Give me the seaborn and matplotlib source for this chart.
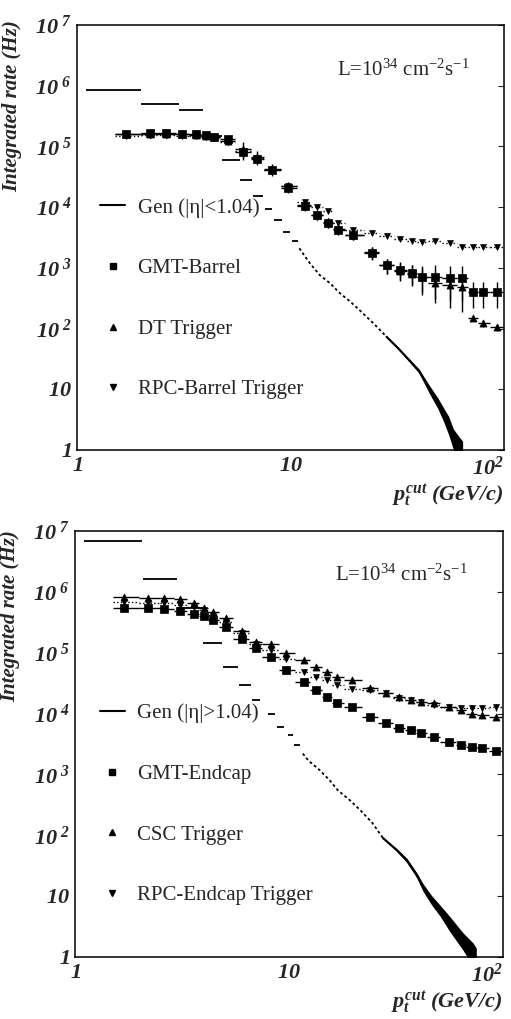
import numpy as np
import pandas as pd
import seaborn as sns
import matplotlib.pyplot as plt
from matplotlib.lines import Line2D
from matplotlib.ticker import NullLocator

# trigger pt thresholds (GeV/c) and the bins drawn as horizontal bars
pt = [1.7, 2.2, 2.6, 3.1, 3.6, 4.0, 4.4, 5.1, 6.0, 7.0, 8.2, 9.7, 11.7, 13.3,
      15.0, 16.7, 19.6, 24.0, 28.3, 32.6, 37.0, 41.3, 47.5, 56.0, 63.6, 71.6, 79.7, 92.7]
bin_lo = [1.5, 2.0, 2.5, 2.9, 3.35, 3.8, 4.2, 4.7, 5.5, 6.5, 7.5, 9.0, 10.7, 12.5,
          14.2, 15.8, 18.0, 22.0, 26.0, 30.5, 35.0, 39.0, 44.0, 51.0, 60.0, 67.5, 75.5, 86.0]
bin_hi = [2.0, 2.5, 2.9, 3.35, 3.8, 4.2, 4.7, 5.5, 6.5, 7.5, 9.0, 10.7, 12.5, 14.2,
          15.8, 18.0, 22.0, 26.0, 30.5, 35.0, 39.0, 44.0, 51.0, 60.0, 67.5, 75.5, 86.0, 99.0]

# ---- barrel |eta|<1.04
gmt_barrel = [1.6e5, 1.65e5, 1.65e5, 1.6e5, 1.6e5, 1.55e5, 1.45e5, 1.3e5, 8e4, 6.2e4, 4.1e4, 2.1e4, 1.05e4, 7.4e3,
              5.5e3, 4.2e3, 3.5e3, 1.77e3, 1.1e3, 9.3e2, 8.3e2, 7.1e2, 7.1e2, 6.8e2, 6.8e2, 4e2, 4e2, 4e2]
gmt_barrel_err = [2.5e4, 2.5e4, 2.5e4, 2.5e4, 2.5e4, 2.5e4, 2e4, 2e4, 1.5e4, 1.2e4, 8e3, 4e3, 2e3, 1.3e3,
                  1e3, 7e2, 6e2, 4e2, 3e2, 3e2, 3e2, 3.5e2, 4e2, 4e2, 4e2, 1.8e2, 1.8e2, 1.8e2]
dt_trig = [1.6e5, 1.6e5, 1.6e5, 1.6e5, 1.55e5, 1.5e5, 1.45e5, 1.25e5, 9e4, 6.8e4, 4.3e4, 2.2e4, 1.1e4, 7.5e3,
           5.6e3, 4.3e3, 3.5e3, 1.8e3, 1.1e3, 9e2, 8e2, 7e2, 5.6e2, 5.2e2, 4.9e2, 1.5e2, 1.23e2, 1.06e2]
dt_err = [2e4, 2e4, 2e4, 2e4, 2e4, 2e4, 2e4, 2e4, 3e4, 1.5e4, 8e3, 4e3, 2e3, 1.3e3,
          1e3, 7e2, 6e2, 4e2, 3e2, 3e2, 3e2, 3e2, 3e2, 3e2, 3e2, 15, 15, 15]
rpc_barrel = [1.5e5, 1.55e5, 1.55e5, 1.5e5, 1.5e5, 1.45e5, 1.4e5, 1.2e5, 8.5e4, 6.5e4, 4.1e4, 2.2e4, 1.2e4, 1.0e4,
              8.5e3, 5.5e3, 4.2e3, 3.7e3, 3.4e3, 3.0e3, 2.8e3, 2.7e3, 2.75e3, 2.6e3, 2.2e3, 2.2e3, 2.2e3, 2.2e3]
rpc_barrel_err = [1.5e4, 1.5e4, 1.5e4, 1.5e4, 1.5e4, 1.5e4, 1.2e4, 1.2e4, 1e4, 8e3, 5e3, 2.5e3, 1.2e3, 8e2,
                  6e2, 4e2, 3e2, 2e2, 1.5e2, 1.2e2, 1e2, 1e2, 1e2, 1e2, 90, 90, 90, 90]

# generated rate: wide bins at low pt, then a dense curve
gen_barrel_lo = [1.1, 2.0, 3.0, 3.9, 4.8, 5.8, 6.7, 7.6, 8.4, 9.2, 10.2]
gen_barrel_hi = [2.0, 3.0, 3.9, 4.8, 5.8, 6.6, 7.4, 8.2, 9.1, 9.9, 10.8]
gen_barrel_val = [8.5e5, 5.0e5, 4.0e5, 1.5e5, 6.0e4, 2.8e4, 1.5e4, 9.3e3, 6.1e3, 3.9e3, 2.8e3]
gen_barrel_pt = [11.0, 12.3, 13.7, 15.3, 17.0, 19.0, 21.0, 24.4, 28.2, 32.0, 36.0, 40.0, 45.0, 49.0,
                 52.0, 55.0, 58.0, 62.0, 64.0]
gen_barrel = [2.1e3, 1.2e3, 7.6e2, 5.6e2, 3.85e2, 2.8e2, 2.03e2, 1.23e2, 73, 47, 30, 20, 9.7, 6.0,
              4.0, 2.7, 1.6, 1.1, 0.9]
gen_barrel_err = [0, 0, 0, 0, 0, 0, 0, 0, 0, 1, 1.5, 1.5, 1.5, 1.2, 1.0, 0.9, 0.6, 0.5, 0.5]

# ---- endcap |eta|>1.04
gmt_endcap = [5.5e5, 5.4e5, 5.2e5, 4.8e5, 4.4e5, 4.0e5, 3.5e5, 2.6e5, 1.7e5, 1.2e5, 8.5e4, 5.2e4, 3.3e4, 2.4e4,
              1.9e4, 1.5e4, 1.27e4, 8.7e3, 6.9e3, 5.8e3, 5.3e3, 4.8e3, 4.1e3, 3.4e3, 3.0e3, 2.8e3, 2.7e3, 2.4e3]
gmt_endcap_err = [3e4, 3e4, 3e4, 3e4, 2.5e4, 2.5e4, 2e4, 1.5e4, 1e4, 7e3, 5e3, 3e3, 2e3, 1.5e3,
                  1.2e3, 1e3, 8e2, 5e2, 4e2, 3.5e2, 3e2, 3e2, 2.5e2, 2e2, 2e2, 1.8e2, 1.8e2, 1.5e2]
csc_trig = [8.2e5, 8.0e5, 7.8e5, 7.6e5, 6.5e5, 5.4e5, 4.6e5, 3.7e5, 2.3e5, 1.5e5, 1.4e5, 9.8e4, 7.5e4, 5.8e4,
            4.8e4, 4.0e4, 3.5e4, 2.6e4, 2.2e4, 1.9e4, 1.7e4, 1.55e4, 1.5e4, 1.27e4, 1.15e4, 1.0e4, 9.4e3, 8.7e3]
csc_err = [5e4, 5e4, 5e4, 5e4, 4e4, 3.5e4, 3e4, 2.5e4, 1.5e4, 1e4, 9e3, 6e3, 5e3, 4e3,
           3e3, 2.5e3, 2e3, 1.5e3, 1.3e3, 1.2e3, 1e3, 1e3, 1e3, 9e2, 9e2, 8e2, 8e2, 7e2]
rpc_endcap = [6.8e5, 6.6e5, 6.5e5, 6.2e5, 5.6e5, 5.0e5, 4.2e5, 3.2e5, 2.1e5, 1.4e5, 1.1e5, 8.0e4, 4.8e4, 4.0e4,
              3.5e4, 2.9e4, 2.5e4, 2.4e4, 2.2e4, 1.8e4, 1.66e4, 1.55e4, 1.4e4, 1.27e4, 1.24e4, 1.24e4, 1.24e4, 1.27e4]
rpc_endcap_err = [8e4, 8e4, 8e4, 7e4, 6e4, 5e4, 4e4, 3e4, 2e4, 1.2e4, 1e4, 8e3, 4e3, 3e3,
                  2.5e3, 2e3, 1.8e3, 1.5e3, 1.4e3, 1.2e3, 1.1e3, 1e3, 1e3, 1e3, 1.2e3, 1.2e3, 1.5e3, 1.5e3]

gen_endcap_lo = [1.1, 2.08, 3.0, 3.97, 4.92, 5.84, 6.7, 8.0, 8.8, 9.9, 10.6]
gen_endcap_hi = [2.06, 3.0, 3.97, 4.86, 5.77, 6.64, 7.3, 8.6, 9.5, 10.4, 11.3]
gen_endcap_val = [6.8e6, 1.6e6, 5.5e5, 1.44e5, 5.8e4, 2.9e4, 1.66e4, 1.0e4, 6.0e3, 4.4e3, 3.0e3]
gen_endcap_pt = [11.6, 12.3, 13.9, 15.5, 16.9, 19.2, 21.5, 24.5, 27.5, 31.9, 35.5, 39.6, 42.3, 46.5,
                 50.8, 56.5, 65.0, 72.5, 75.0]
gen_endcap = [2.2e3, 1.7e3, 1.18e3, 8.0e2, 5.5e2, 3.8e2, 2.6e2, 1.6e2, 90, 57, 39, 22, 14, 8.6,
              5.9, 3.6, 1.9, 1.2, 1.0]
gen_endcap_err = [0, 0, 0, 0, 0, 0, 0, 0, 0, 3, 3, 2, 2, 1.5, 1.2, 1.0, 0.6, 0.5, 0.4]

y_ticks = [1, 10, 1e2, 1e3, 1e4, 1e5, 1e6, 1e7]
y_ticklabels = [r'$1$', r'$10$', r'$10^{\ 2}$', r'$10^{\ 3}$', r'$10^{\ 4}$',
                r'$10^{\ 5}$', r'$10^{\ 6}$', r'$10^{\ 7}$']
x_ticks = [1, 10, 100]
x_ticklabels = [r'$1$', r'$10$', r'$10^{2}$']

sns.set_style('white')
plt.rcParams['font.family'] = ['Liberation Serif', 'DejaVu Serif']
plt.rcParams['mathtext.fontset'] = 'custom'
plt.rcParams['mathtext.rm'] = 'Liberation Serif:italic:bold'
plt.rcParams['mathtext.it'] = 'Liberation Serif:italic:bold'
plt.rcParams['mathtext.bf'] = 'Liberation Serif:italic:bold'
plt.rcParams['mathtext.sf'] = 'Liberation Serif'


def draw_series(ax, y, yerr, marker, size, bar_ls='-'):
    x = np.array(pt)
    xerr = [x - np.array(bin_lo), np.array(bin_hi) - x]
    eb = ax.errorbar(x, y, xerr=xerr, yerr=yerr, fmt='none', ecolor='black',
                     elinewidth=1.0, capsize=0, zorder=2)
    eb.lines[2][0].set_linestyle(bar_ls)
    df = pd.DataFrame({'pt': pt, 'rate': y})
    sns.scatterplot(data=df, x='pt', y='rate', marker=marker, s=size, color='black',
                    edgecolor='black', linewidth=0.5, ax=ax, zorder=3, legend=False)


def draw_gen(ax, lo, hi, val, tail_pt, tail, tail_err, solid_from):
    ax.hlines(val, lo, hi, colors='black', lw=1.3, zorder=2)
    tail_pt = np.array(tail_pt)
    tail = np.array(tail)
    tail_err = np.array(tail_err)
    dot = tail_pt <= solid_from
    sol = tail_pt >= tail_pt[dot].max()
    sns.lineplot(x=tail_pt[dot], y=tail[dot], color='black', lw=1.3,
                 linestyle=(0, (1.5, 1.5)), ax=ax, zorder=2)
    sns.lineplot(x=tail_pt[sol], y=tail[sol], color='black', lw=1.6, ax=ax, zorder=2)
    ax.fill_between(tail_pt[sol], tail[sol] - tail_err[sol], tail[sol] + tail_err[sol],
                    color='black', lw=0, zorder=2)


def style_axes(ax, labels, leg_anchor, lumi_pos, ylab_y):
    ax.set_xscale('log')
    ax.set_yscale('log')
    ax.set_xlim(1, 100)
    ax.set_ylim(1, 1e7)
    ax.set_xticks(x_ticks)
    ax.set_xticklabels(x_ticklabels)
    ax.set_yticks(y_ticks)
    ax.set_yticklabels(y_ticklabels)
    ax.get_xticklabels()[-1].set_horizontalalignment('right')
    ax.xaxis.set_minor_locator(NullLocator())
    ax.yaxis.set_minor_locator(NullLocator())
    ax.tick_params(direction='in', length=4, width=0.8, labelsize=16, right=True)
    ax.tick_params(axis='x', pad=5)
    ax.tick_params(axis='y', pad=4)
    for s in ax.spines.values():
        s.set_color('black')
        s.set_linewidth(1.1)
    ax.set_xlabel('')
    ax.set_ylabel('Integrated rate (Hz)', fontsize=15, fontweight='bold', style='italic')
    ax.yaxis.set_label_coords(-0.128, ylab_y)
    ax.text(1.0, -0.108, r'$p_t^{cut}$ (GeV/c)', transform=ax.transAxes, ha='right', va='center',
            fontsize=16, fontweight='bold', style='italic')
    ax.text(lumi_pos[0], lumi_pos[1],
            r'L=10$^{\mathsf{34}}$ cm$^{\mathsf{-2}}$s$^{\mathsf{-1}}$',
            transform=ax.transAxes, ha='left', va='center', fontsize=15)
    handles = [Line2D([], [], color='black', lw=1.5),
               Line2D([], [], marker='s', ls='none', color='black', ms=5),
               Line2D([], [], marker='^', ls='none', color='black', ms=5),
               Line2D([], [], marker='v', ls='none', color='black', ms=4)]
    ax.legend(handles, labels, loc='center left', bbox_to_anchor=leg_anchor, frameon=False,
              fontsize=15, labelspacing=1.97, handlelength=1.2, handletextpad=0.6,
              borderpad=0, borderaxespad=0)


fig = plt.figure(figsize=(5.11, 10.19), dpi=100)
ax1 = fig.add_axes([0.1507, 0.5584, 0.8356, 0.4171])
ax2 = fig.add_axes([0.1468, 0.0608, 0.8376, 0.4181])

# barrel
ax1.set_xscale('log')
ax1.set_yscale('log')
draw_gen(ax1, gen_barrel_lo, gen_barrel_hi, gen_barrel_val,
         gen_barrel_pt, gen_barrel, gen_barrel_err, 29)
draw_series(ax1, rpc_barrel, rpc_barrel_err, 'v', 18, bar_ls=':')
draw_series(ax1, dt_trig, dt_err, '^', 26)
draw_series(ax1, gmt_barrel, gmt_barrel_err, 's', 26)
style_axes(ax1, ['Gen (|η|<1.04)', 'GMT-Barrel', 'DT Trigger', 'RPC-Barrel Trigger'],
           (0.054, 0.356), (0.609, 0.894), 0.81)

# endcap
ax2.set_xscale('log')
ax2.set_yscale('log')
draw_gen(ax2, gen_endcap_lo, gen_endcap_hi, gen_endcap_val,
         gen_endcap_pt, gen_endcap, gen_endcap_err, 31)
draw_series(ax2, rpc_endcap, rpc_endcap_err, 'v', 18, bar_ls=':')
draw_series(ax2, csc_trig, csc_err, '^', 26)
draw_series(ax2, gmt_endcap, gmt_endcap_err, 's', 26)
style_axes(ax2, ['Gen (|η|>1.04)', 'GMT-Endcap', 'CSC Trigger', 'RPC-Endcap Trigger'],
           (0.058, 0.358), (0.607, 0.897), 0.80)

fig.savefig('out.png', dpi=100)
